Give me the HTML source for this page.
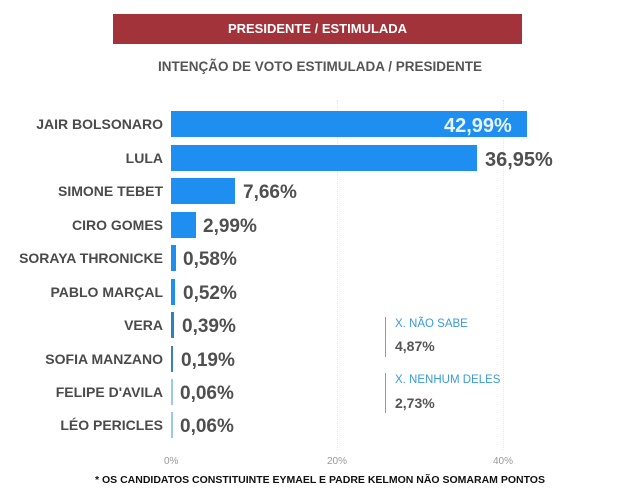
<!DOCTYPE html>
<html><head><meta charset="utf-8"><style>
body{margin:0;width:640px;height:499px;background:#fff;position:relative;overflow:hidden;font-family:"Liberation Sans",sans-serif;font-weight:bold}
.a{position:absolute}
.lab{position:absolute;right:477px;font-size:14px;color:#4a4a4a;line-height:26px;white-space:nowrap}
.bar{position:absolute;left:171px;height:26px;background:#1f8ef1}
.val{position:absolute;font-size:19px;color:#4f4f4f;line-height:26px;white-space:nowrap}
.grid{position:absolute;top:100px;height:350px;border-left:1px dotted #e6e6e6}
.tick{position:absolute;top:456px;font-size:10px;font-weight:normal;color:#999}
</style></head><body>
<div class="a" style="left:113px;top:14px;width:409px;height:30px;background:#a3333b;color:#fff;font-size:13px;text-align:center;line-height:30px">PRESIDENTE / ESTIMULADA</div>
<div class="a" style="left:0;width:640px;top:59px;text-align:center;font-size:13.5px;color:#555">INTENÇÃO DE VOTO ESTIMULADA / PRESIDENTE</div>
<div class="grid" style="left:337px"></div><div class="grid" style="left:503px"></div>
<div class="tick" style="left:164px">0%</div><div class="tick" style="left:327px">20%</div><div class="tick" style="left:493px">40%</div>

<div class="lab" style="top:111px">JAIR BOLSONARO</div><div class="bar" style="top:111px;width:356px"></div><div class="val" style="top:113px;left:444px;color:#e8f3ff;font-size:20px">42,99%</div>
<div class="lab" style="top:145px">LULA</div><div class="bar" style="top:145px;width:306px"></div><div class="val" style="top:147px;left:485px;font-size:20px">36,95%</div>
<div class="lab" style="top:178px">SIMONE TEBET</div><div class="bar" style="top:178px;width:64px"></div><div class="val" style="top:180px;left:243px">7,66%</div>
<div class="lab" style="top:212px">CIRO GOMES</div><div class="bar" style="top:212px;width:25px"></div><div class="val" style="top:214px;left:203px">2,99%</div>
<div class="lab" style="top:245px">SORAYA THRONICKE</div><div class="bar" style="top:245px;width:5px"></div><div class="val" style="top:247px;left:183px">0,58%</div>
<div class="lab" style="top:279px">PABLO MARÇAL</div><div class="bar" style="top:279px;width:4px"></div><div class="val" style="top:281px;left:183px">0,52%</div>
<div class="lab" style="top:312px">VERA</div><div class="bar" style="top:312px;width:3px;background:#2d7fc8"></div><div class="val" style="top:314px;left:182px">0,39%</div>
<div class="lab" style="top:346px">SOFIA MANZANO</div><div class="bar" style="top:346px;width:2px;background:#3a7fbf"></div><div class="val" style="top:348px;left:181px">0,19%</div>
<div class="lab" style="top:379px">FELIPE D'AVILA</div><div class="bar" style="top:379px;width:2px;background:#9cc8ec"></div><div class="val" style="top:381px;left:180px">0,06%</div>
<div class="lab" style="top:412px">LÉO PERICLES</div><div class="bar" style="top:412px;width:2px;background:#9cc8ec"></div><div class="val" style="top:414px;left:180px">0,06%</div>

<div class="a" style="left:385px;top:317px;height:40px;border-left:1px solid #999"></div>
<div class="a" style="left:395px;top:318px;font-size:11.5px;font-weight:normal;color:#3a9bd8">X. NÃO SABE</div>
<div class="a" style="left:395px;top:338px;font-size:14px;color:#555">4,87%</div>
<div class="a" style="left:385px;top:373px;height:40px;border-left:1px solid #999"></div>
<div class="a" style="left:395px;top:374px;font-size:11.5px;font-weight:normal;color:#3a9bd8">X. NENHUM DELES</div>
<div class="a" style="left:395px;top:395px;font-size:14px;color:#555">2,73%</div>

<div class="a" style="left:0;width:640px;top:474px;text-align:center;font-size:10.5px;color:#111">* OS CANDIDATOS CONSTITUINTE EYMAEL E PADRE KELMON NÃO SOMARAM PONTOS</div>
</body></html>
